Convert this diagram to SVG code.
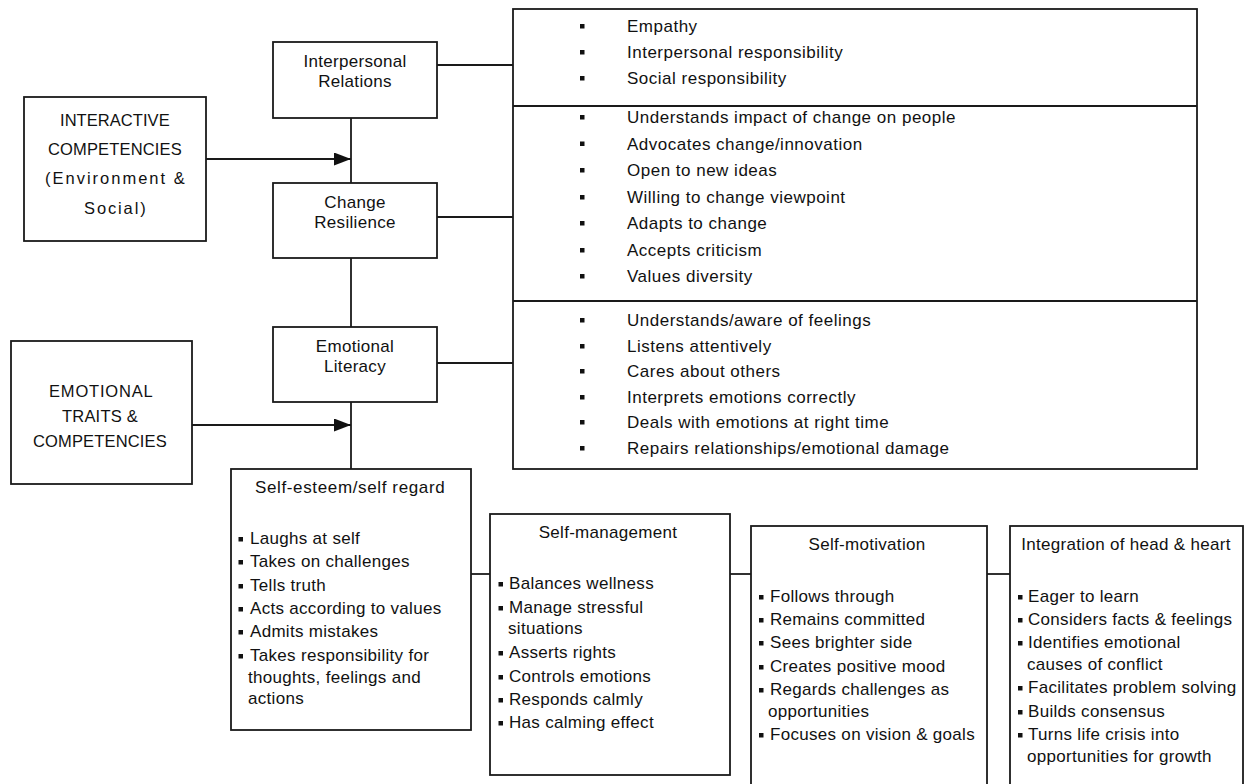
<svg xmlns="http://www.w3.org/2000/svg" width="1252" height="784" viewBox="0 0 1252 784">
  <style>
    .box { fill: #ffffff; stroke: #1a1a1a; stroke-width: 1.8; }
    .ln { fill: none; stroke: #1a1a1a; stroke-width: 1.8; }
    text { font-family: "Liberation Sans", Arial, sans-serif; font-size: 17px; fill: #111111; letter-spacing: 0.3px; }
    .c { text-anchor: middle; }
    text.caps { font-size: 16.5px; }
    .wide text { letter-spacing: 0.5px; }
    .b { fill: #111111; }
  </style>
  <defs>
    <marker id="arrow" markerUnits="userSpaceOnUse" markerWidth="17" markerHeight="13" refX="17" refY="6.5" orient="auto">
      <path d="M0,0 L17,6.5 L0,13 z" fill="#111111"/>
    </marker>
    <rect id="bul" width="4.5" height="4.5"/>
  </defs>

  <rect width="1252" height="784" fill="#ffffff"/>

  <!-- connectors -->
  <g id="connectors">
    <line class="ln" x1="351" y1="118" x2="351" y2="183"/>
    <line class="ln" x1="351" y1="258" x2="351" y2="327"/>
    <line class="ln" x1="351" y1="402" x2="351" y2="469"/>
    <line class="ln" x1="206" y1="159" x2="351" y2="159" marker-end="url(#arrow)"/>
    <line class="ln" x1="192" y1="425" x2="351" y2="425" marker-end="url(#arrow)"/>
    <line class="ln" x1="437" y1="65" x2="513" y2="65"/>
    <line class="ln" x1="437" y1="217" x2="513" y2="217"/>
    <line class="ln" x1="437" y1="363" x2="513" y2="363"/>
    <line class="ln" x1="471" y1="574" x2="490" y2="574"/>
    <line class="ln" x1="730" y1="574" x2="751" y2="574"/>
    <line class="ln" x1="987" y1="574" x2="1010" y2="574"/>
  </g>

  <!-- left column -->
  <g id="interactive">
    <rect class="box" x="24" y="97" width="182" height="144"/>
    <text class="c caps" x="115" y="126" textLength="110" lengthAdjust="spacing">INTERACTIVE</text>
    <text class="c caps" x="115" y="155" textLength="134" lengthAdjust="spacing">COMPETENCIES</text>
    <text class="c caps" x="115" y="184" textLength="140" lengthAdjust="spacing">(Environment &amp;</text>
    <text class="c caps" x="115" y="214" textLength="62" lengthAdjust="spacing">Social)</text>
  </g>

  <g id="emotional-traits">
    <rect class="box" x="11" y="341" width="181" height="143"/>
    <text class="c caps" x="101" y="397" textLength="104" lengthAdjust="spacing">EMOTIONAL</text>
    <text class="c caps" x="100" y="422" textLength="76" lengthAdjust="spacing">TRAITS &amp;</text>
    <text class="c caps" x="100" y="447" textLength="134" lengthAdjust="spacing">COMPETENCIES</text>
  </g>

  <!-- middle column -->
  <g id="interpersonal-relations">
    <rect class="box" x="273" y="42" width="164" height="76"/>
    <text class="c" x="355" y="67">Interpersonal</text>
    <text class="c" x="355" y="87">Relations</text>
  </g>

  <g id="change-resilience">
    <rect class="box" x="273" y="183" width="164" height="75"/>
    <text class="c" x="355" y="208">Change</text>
    <text class="c" x="355" y="228">Resilience</text>
  </g>

  <g id="emotional-literacy">
    <rect class="box" x="273" y="327" width="164" height="75"/>
    <text class="c" x="355" y="352">Emotional</text>
    <text class="c" x="355" y="372">Literacy</text>
  </g>

  <!-- right-hand list panel -->
  <g id="attribute-lists">
    <rect class="box" x="513" y="9" width="684" height="460"/>
    <line class="ln" x1="513" y1="106" x2="1197" y2="106"/>
    <line class="ln" x1="513" y1="301" x2="1197" y2="301"/>
    <g class="b">
      <use href="#bul" x="580" y="24"/>
      <use href="#bul" x="580" y="50"/>
      <use href="#bul" x="580" y="76"/>
      <use href="#bul" x="580" y="115"/>
      <use href="#bul" x="580" y="141.5"/>
      <use href="#bul" x="580" y="168"/>
      <use href="#bul" x="580" y="195"/>
      <use href="#bul" x="580" y="221"/>
      <use href="#bul" x="580" y="248"/>
      <use href="#bul" x="580" y="274"/>
      <use href="#bul" x="580" y="318"/>
      <use href="#bul" x="580" y="344"/>
      <use href="#bul" x="580" y="369"/>
      <use href="#bul" x="580" y="395"/>
      <use href="#bul" x="580" y="420"/>
      <use href="#bul" x="580" y="446"/>
    </g>
    <g class="wide">
      <text x="627" y="32">Empathy</text>
      <text x="627" y="58">Interpersonal responsibility</text>
      <text x="627" y="84">Social responsibility</text>
      <text x="627" y="123">Understands impact of change on people</text>
      <text x="627" y="149.5">Advocates change/innovation</text>
      <text x="627" y="176">Open to new ideas</text>
      <text x="627" y="203">Willing to change  viewpoint</text>
      <text x="627" y="229">Adapts to change</text>
      <text x="627" y="256">Accepts criticism</text>
      <text x="627" y="282">Values diversity</text>
      <text x="627" y="326">Understands/aware of feelings</text>
      <text x="627" y="352">Listens attentively</text>
      <text x="627" y="377">Cares about others</text>
      <text x="627" y="403">Interprets emotions correctly</text>
      <text x="627" y="428">Deals with emotions at right time</text>
      <text x="627" y="454">Repairs relationships/emotional damage</text>
    </g>
  </g>

  <!-- bottom row -->
  <g id="self-esteem">
    <rect class="box" x="231" y="469" width="240" height="261"/>
    <text class="c" x="350" y="493" textLength="190" lengthAdjust="spacing">Self-esteem/self regard</text>
    <g class="b">
      <use href="#bul" x="238.5" y="537"/>
      <use href="#bul" x="238.5" y="560"/>
      <use href="#bul" x="238.5" y="584"/>
      <use href="#bul" x="238.5" y="607"/>
      <use href="#bul" x="238.5" y="630"/>
      <use href="#bul" x="238.5" y="654"/>
    </g>
    <text x="250" y="544">Laughs at self</text>
    <text x="250" y="567">Takes on challenges</text>
    <text x="250" y="591">Tells truth</text>
    <text x="250" y="614">Acts according to values</text>
    <text x="250" y="637">Admits mistakes</text>
    <text x="250" y="661">Takes responsibility for</text>
    <text x="248" y="683">thoughts, feelings and</text>
    <text x="248" y="704">actions</text>
  </g>

  <g id="self-management">
    <rect class="box" x="490" y="514" width="240" height="261"/>
    <text class="c" x="608" y="538">Self-management</text>
    <g class="b">
      <use href="#bul" x="498.5" y="582"/>
      <use href="#bul" x="498.5" y="606"/>
      <use href="#bul" x="498.5" y="651"/>
      <use href="#bul" x="498.5" y="675"/>
      <use href="#bul" x="498.5" y="698"/>
      <use href="#bul" x="498.5" y="721"/>
    </g>
    <text x="509" y="589">Balances wellness</text>
    <text x="509" y="613">Manage stressful</text>
    <text x="508" y="634">situations</text>
    <text x="509" y="658">Asserts rights</text>
    <text x="509" y="682">Controls emotions</text>
    <text x="509" y="705">Responds calmly</text>
    <text x="509" y="728">Has calming effect</text>
  </g>

  <g id="self-motivation">
    <rect class="box" x="751" y="526" width="236" height="270"/>
    <text class="c" x="867" y="550">Self-motivation</text>
    <g class="b">
      <use href="#bul" x="759" y="595"/>
      <use href="#bul" x="759" y="618"/>
      <use href="#bul" x="759" y="641"/>
      <use href="#bul" x="759" y="665"/>
      <use href="#bul" x="759" y="688"/>
      <use href="#bul" x="759" y="733"/>
    </g>
    <text x="770" y="602">Follows through</text>
    <text x="770" y="625">Remains committed</text>
    <text x="770" y="648">Sees brighter side</text>
    <text x="770" y="672">Creates positive mood</text>
    <text x="770" y="695">Regards challenges as</text>
    <text x="768" y="717">opportunities</text>
    <text x="770" y="740">Focuses on vision &amp; goals</text>
  </g>

  <g id="integration">
    <rect class="box" x="1010" y="526" width="233" height="270"/>
    <text class="c" x="1126" y="550">Integration of head &amp; heart</text>
    <g class="b">
      <use href="#bul" x="1018" y="595"/>
      <use href="#bul" x="1018" y="618"/>
      <use href="#bul" x="1018" y="641"/>
      <use href="#bul" x="1018" y="686"/>
      <use href="#bul" x="1018" y="710"/>
      <use href="#bul" x="1018" y="733"/>
    </g>
    <text x="1028" y="602">Eager to learn</text>
    <text x="1028" y="625">Considers facts &amp; feelings</text>
    <text x="1028" y="648">Identifies emotional</text>
    <text x="1027" y="670">causes of conflict</text>
    <text x="1028" y="693">Facilitates problem solving</text>
    <text x="1028" y="717">Builds consensus</text>
    <text x="1028" y="740">Turns life crisis into</text>
    <text x="1027" y="762">opportunities for growth</text>
  </g>
</svg>
